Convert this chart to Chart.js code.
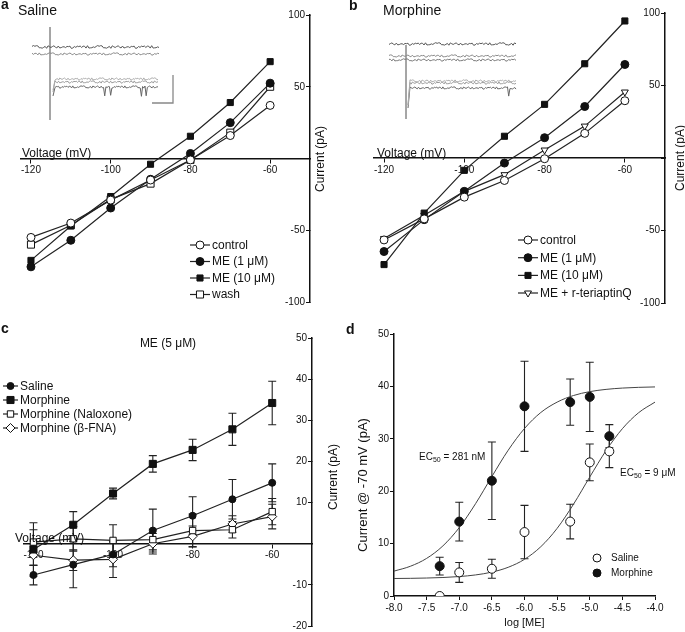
<!DOCTYPE html>
<html>
<head>
<meta charset="utf-8">
<title>ME currents in saline and morphine treated neurons</title>
<script src="https://cdn.jsdelivr.net/npm/chart.js@4.4.1/dist/chart.umd.min.js"></script>
<style>
  body { margin: 0; background: #fff; }
  #fig { position: relative; width: 685px; height: 632px; overflow: hidden;
         font-family: "Liberation Sans", Arial, sans-serif; color: #111; }
  #fig canvas { position: absolute; }
  .t { position: absolute; white-space: nowrap; line-height: 1; font-size: 12px; }
  .c { transform: translate(-50%, -50%); }
  .v { transform: translate(-50%, -50%) rotate(-90deg); }
  .p { font-weight: bold; font-size: 14px; }
  sub { font-size: 7px; vertical-align: -2px; }
</style>
</head>
<body>
<div id="fig">
  <canvas id="ivSaline" width="345" height="310" style="left:0;top:0"></canvas>
  <canvas id="ivMorphine" width="340" height="310" style="left:345px;top:0"></canvas>
  <canvas id="ivME5" width="345" height="322" style="left:0;top:310px"></canvas>
  <canvas id="doseResp" width="340" height="322" style="left:345px;top:310px"></canvas>
  <canvas id="traceSaline" width="155" height="105" style="left:25px;top:20px"></canvas>
  <canvas id="traceMorphine" width="140" height="105" style="left:380px;top:20px"></canvas>

  <div class="t p" style="left:1px;top:-3px">a</div>
  <div class="t" style="left:18px;top:3px;font-size:14px">Saline</div>
  <div class="t" style="left:22px;top:147px">Voltage (mV)</div>
  <div class="t v" style="left:320px;top:159px">Current (pA)</div>

  <div class="t p" style="left:349px;top:-2px">b</div>
  <div class="t" style="left:383px;top:3px;font-size:14px">Morphine</div>
  <div class="t" style="left:377px;top:147px">Voltage (mV)</div>
  <div class="t v" style="left:680px;top:158px">Current (pA)</div>

  <div class="t p" style="left:1px;top:321px">c</div>
  <div class="t c" style="left:168px;top:343px">ME (5 μM)</div>
  <div class="t" style="left:15px;top:532px">Voltage (mV)</div>
  <div class="t v" style="left:333px;top:477px">Current (pA)</div>

  <div class="t p" style="left:346px;top:322px">d</div>
  <div class="t v" style="left:362px;top:485px;font-size:13px">Current @ -70 mV (pA)</div>
  <div class="t" style="left:419px;top:452px;font-size:10px">EC<sub>50</sub> = 281 nM</div>
  <div class="t" style="left:620px;top:468px;font-size:10px">EC<sub>50</sub> = 9 μM</div>
</div>

<script>
// ---- data -------------------------------------------------------------
// command steps (mV) for the I-V plots
var voltage = [-120, -110, -100, -90, -80, -70, -60];
var voltTicks = [-120, -100, -80, -60];

// a: saline treated neuron (pA)
var salControl = [-55, -45, -29, -15, -1, 16, 37];
var salME1 = [-75.5, -57, -34.5, -14.5, 3.5, 25, 52.5];
var salME10 = [-71, -47, -26.5, -4, 15.5, 39, 67.5];
var salWash = [-60, -46.5, -28.5, -17.5, -1, 18, 50];

// b: morphine treated neuron (pA)
var morControl = [-56.5, -42, -27, -15.5, -0.5, 17, 39.5];
var morME1 = [-64.5, -42.5, -23, -3.5, 14, 35.5, 64.5];
var morME10 = [-73.5, -38, -8.5, 15, 37, 65, 94.5];
var morTertiapin = [-55.5, -39.5, -23, -11.5, 5.5, 22, 45.5];

// c: ME (5 uM) induced current, mean and s.e.m. (pA)
var me5Saline = [-7.6, -5.1, -2.6, 3.2, 6.8, 10.8, 14.8];
var me5SalineErr = [2.4, 5.6, 3, 5.2, 4.6, 4.8, 4.6];
var me5Morphine = [-1.4, 4.6, 12.2, 19.4, 22.8, 27.8, 34.2];
var me5MorphineErr = [6.5, 3.2, 1.3, 2, 2.6, 3.9, 5.3];
var me5Naloxone = [0.4, 1.2, 0.8, 1, 3.2, 3.4, 7.8];
var me5NaloxoneErr = [3, 3, 3.8, 2.5, 4, 2, 3.2];
var me5Bfna = [-2.8, -4, -3.8, 0, 1.8, 4.8, 6.6];
var me5BfnaErr = [2.5, 2.5, 4.4, 2.5, 2.5, 2, 3];

// d: concentration-response at -70 mV
var logME = [-7.3, -7.0, -6.5, -6.0, -5.3, -5.0, -4.7];
var logTicks = [-8, -7.5, -7, -6.5, -6, -5.5, -5, -4.5, -4];
var drSaline = [0, 4.5, 5.2, 12.2, 14.2, 25.5, 27.6];
var drSalineErr = [0, 1.9, 1.8, 5.1, 3.3, 3.5, 3.1];
var drMorphine = [5.7, 14.2, 22, 36.2, 37, 38, 30.5];
var drMorphineErr = [1.7, 3.7, 7.4, 8.6, 4.4, 6.6, 2.2];
// fitted curves
var fitLog = [-8, -7.75, -7.5, -7.25, -7, -6.75, -6.5, -6.25, -6, -5.75, -5.5, -5.25, -5, -4.75, -4.5, -4.25, -4];
var fitMorphine = [4.75, 5.67, 7.18, 9.57, 13.05, 17.62, 22.8, 27.82, 31.97, 35.02, 37.0, 38.26, 39.0, 39.43, 39.68, 39.82, 39.9];
var fitSaline = [3.34, 3.37, 3.43, 3.53, 3.71, 4.02, 4.56, 5.48, 7.0, 9.41, 12.91, 17.5, 22.71, 27.75, 31.93, 34.99, 37.0];

// example current traces (inset), baseline noise in pA
var traceNoise = [0.5, -0.8, 1.1, -0.4, 0.3, -1.0, 0.7, 1.2, -0.5, -0.9, 0.4, 0.8, -0.3, -1.2, 0.6,
  0.1, -0.7, 1.0, -0.4, 0.5, -0.8, 1.1, 0.2, -0.6, -0.1, 0.7, -1.1, 0.4, 0.9, -0.5, 0.1, -0.8,
  0.6, 1.0, -0.3, -0.7, 0.5, -0.4, 0.8, -0.9, 0.2, 0.7, -0.6, 0.3];
var salSpikes = [42, 47, 73, 77];
var morSpikes = [81];

// ---- helpers ----------------------------------------------------------
var INK = '#111';
var OPEN = '#fff';
Chart.defaults.font.family = '"Liberation Sans", Arial, sans-serif';
Chart.defaults.color = INK;

function pts(xs, ys) {
  return xs.map(function (x, i) { return { x: x, y: ys[i] }; });
}

function series(label, xs, ys, style) {
  return Object.assign({
    label: label, data: pts(xs, ys),
    borderColor: '#222', borderWidth: 1.2,
    pointStyle: 'circle', pointRadius: 4, pointRotation: 0,
    pointBackgroundColor: INK, pointBorderColor: INK, pointBorderWidth: 1,
    tension: 0
  }, style || {});
}

// vertical s.e.m. bars under the markers
var errorBars = {
  id: 'errorBars',
  beforeDatasetsDraw: function (chart) {
    var ctx = chart.ctx, ys = chart.scales.y;
    chart.data.datasets.forEach(function (ds, i) {
      if (!ds.errors) return;
      var meta = chart.getDatasetMeta(i);
      ctx.save();
      ctx.strokeStyle = '#222';
      ctx.lineWidth = 1.1;
      meta.data.forEach(function (pt, j) {
        var e = ds.errors[j];
        if (!e) return;
        var v = ds.data[j].y;
        var top = ys.getPixelForValue(v + e), bot = ys.getPixelForValue(v - e);
        ctx.beginPath();
        ctx.moveTo(pt.x, top); ctx.lineTo(pt.x, bot);
        ctx.moveTo(pt.x - 4, top); ctx.lineTo(pt.x + 4, top);
        ctx.moveTo(pt.x - 4, bot); ctx.lineTo(pt.x + 4, bot);
        ctx.stroke();
      });
      ctx.restore();
    });
  }
};

// legend with line + marker like the original graphs
var lineLegend = {
  id: 'lineLegend',
  afterDraw: function (chart, args, opts) {
    if (!opts || !opts.rows) return;
    var ctx = chart.ctx;
    ctx.save();
    ctx.font = (opts.size || 12) + 'px "Liberation Sans", Arial, sans-serif';
    ctx.textBaseline = 'middle';
    chart.data.datasets.forEach(function (ds, i) {
      var y = opts.rows[i];
      if (y == null) return;
      var x0 = opts.x, len = opts.len || 0, px = x0 + len / 2;
      if (len) {
        ctx.strokeStyle = ds.borderColor;
        ctx.lineWidth = ds.borderWidth;
        ctx.beginPath(); ctx.moveTo(x0, y); ctx.lineTo(x0 + len, y); ctx.stroke();
      }
      ctx.fillStyle = ds.pointBackgroundColor;
      ctx.strokeStyle = ds.pointBorderColor;
      ctx.lineWidth = ds.pointBorderWidth;
      Chart.helpers.drawPoint(ctx, {
        pointStyle: ds.pointStyle, rotation: ds.pointRotation || 0,
        radius: opts.radius || ds.pointRadius, borderWidth: ds.pointBorderWidth
      }, px, y);
      ctx.fillStyle = INK;
      ctx.fillText(ds.label, opts.textX, y + 0.5);
    });
    ctx.restore();
  }
};

function ivOptions(o) {
  return {
    responsive: false, animation: false, events: [],
    layout: { padding: o.pad },
    plugins: { legend: { display: false }, tooltip: { enabled: false }, lineLegend: o.legend },
    scales: {
      x: {
        type: 'linear', min: -122.5, max: -50, position: { y: 0 },
        afterBuildTicks: function (s) { s.ticks = voltTicks.map(function (v) { return { value: v }; }); },
        grid: { drawOnChartArea: false, color: INK, tickLength: 4 },
        border: { color: INK, width: 1.5 },
        ticks: { font: { size: 10 }, padding: 2, maxRotation: 0, autoSkip: false }
      },
      y: {
        position: 'right', min: o.ymin, max: o.ymax,
        afterFit: function (s) { s.width = o.yWidth; },
        grid: { drawOnChartArea: false, color: INK, tickLength: -4 },
        border: { color: INK, width: 1.5 },
        ticks: {
          stepSize: o.step, mirror: true, padding: -5, font: { size: 10 },
          callback: function (v) { return v === 0 ? '' : v; }
        }
      }
    }
  };
}

function insetChart(id, w, h, sets) {
  return new Chart(document.getElementById(id), {
    type: 'line',
    data: { datasets: sets },
    options: {
      responsive: false, animation: false, events: [],
      layout: { padding: 0 },
      plugins: { legend: { display: false }, tooltip: { enabled: false } },
      elements: { point: { radius: 0 }, line: { borderWidth: 1, tension: 0 } },
      scales: {
        x: { type: 'linear', display: false, min: 0, max: w },
        y: { display: false, min: -h, max: 0 }
      }
    }
  });
}

// one sweep: baseline + noise sampled between t0 and t1 (ms)
function sweep(t0, t1, base, shift, amp, color, spikes, riseFrom) {
  var n = traceNoise.length, m = 2 * n, data = [];
  if (riseFrom != null) data.push({ x: t0 - 2, y: riseFrom });
  for (var i = 0; i < m; i++) {
    var y = base + traceNoise[(i * 7 + shift) % n] * amp;
    if (spikes && spikes.indexOf(i) >= 0) y -= 9;
    data.push({ x: t0 + i * (t1 - t0) / (m - 1), y: y });
  }
  return { data: data, borderColor: color, borderWidth: 1 };
}

// ---- a: saline ---------------------------------------------------------
new Chart(document.getElementById('ivSaline'), {
  type: 'line',
  data: { datasets: [
    series('control', voltage, salControl, { pointBackgroundColor: OPEN }),
    series('ME (1 μM)', voltage, salME1),
    series('ME (10 μM)', voltage, salME10, { pointStyle: 'rect', pointRadius: 4.3 }),
    series('wash', voltage, salWash, { pointStyle: 'rect', pointRadius: 5, pointBackgroundColor: OPEN })
  ] },
  options: ivOptions({ pad: { left: 21, top: 15, bottom: 8, right: 0 }, yWidth: 35,
    ymin: -100, ymax: 100, step: 50,
    legend: { x: 190, len: 20, textX: 212, rows: [245, 261.5, 278, 294.5] } }),
  plugins: [lineLegend]
});

// ---- b: morphine -------------------------------------------------------
new Chart(document.getElementById('ivMorphine'), {
  type: 'line',
  data: { datasets: [
    series('control', voltage, morControl, { pointBackgroundColor: OPEN }),
    series('ME (1 μM)', voltage, morME1),
    series('ME (10 μM)', voltage, morME10, { pointStyle: 'rect', pointRadius: 4.3 }),
    series('ME + r-teriaptinQ', voltage, morTertiapin,
      { pointStyle: 'triangle', pointRotation: 180, pointRadius: 4, pointBackgroundColor: OPEN })
  ] },
  options: ivOptions({ pad: { left: 29, top: 13, bottom: 7, right: 0 }, yWidth: 20,
    ymin: -100, ymax: 100, step: 50,
    legend: { x: 173, len: 20, textX: 195, rows: [240, 257.7, 275.4, 293] } }),
  plugins: [lineLegend]
});

// ---- c: ME 5 uM --------------------------------------------------------
new Chart(document.getElementById('ivME5'), {
  type: 'line',
  data: { datasets: [
    series('Saline', voltage, me5Saline, { pointRadius: 3.5, errors: me5SalineErr }),
    series('Morphine', voltage, me5Morphine, { pointStyle: 'rect', pointRadius: 5, errors: me5MorphineErr }),
    series('Morphine (Naloxone)', voltage, me5Naloxone,
      { pointStyle: 'rect', pointRadius: 4.5, pointBackgroundColor: OPEN, errors: me5NaloxoneErr }),
    series('Morphine (β-FNA)', voltage, me5Bfna,
      { pointStyle: 'rectRot', pointRadius: 4.5, pointBackgroundColor: OPEN, errors: me5BfnaErr })
  ] },
  options: ivOptions({ pad: { left: 23.5, top: 28, bottom: 4, right: 0 }, yWidth: 33,
    ymin: -20, ymax: 50, step: 10,
    legend: { x: 3, len: 15, textX: 20, rows: [76, 90, 104, 118] } }),
  plugins: [errorBars, lineLegend]
});

// ---- d: concentration-response ----------------------------------------
new Chart(document.getElementById('doseResp'), {
  type: 'line',
  data: { datasets: [
    series('Saline', logME, drSaline, { showLine: false, pointRadius: 4.5,
      pointBackgroundColor: OPEN, errors: drSalineErr }),
    series('Morphine', logME, drMorphine, { showLine: false, pointRadius: 4.5, errors: drMorphineErr }),
    series('', fitLog, fitMorphine, { pointRadius: 0, borderWidth: 1, borderColor: '#444',
      cubicInterpolationMode: 'monotone' }),
    series('', fitLog, fitSaline, { pointRadius: 0, borderWidth: 1, borderColor: '#444',
      cubicInterpolationMode: 'monotone' })
  ] },
  options: {
    responsive: false, animation: false, events: [],
    layout: { padding: { left: 0, top: 24, right: 30, bottom: 0 } },
    plugins: { legend: { display: false }, tooltip: { enabled: false },
      lineLegend: { x: 252, len: 0, textX: 266, size: 10, radius: 4, rows: [248, 263, null, null] } },
    scales: {
      x: {
        type: 'linear', min: -8, max: -4, position: 'bottom',
        afterFit: function (s) { s.height = 36; },
        afterBuildTicks: function (s) { s.ticks = logTicks.map(function (v) { return { value: v }; }); },
        grid: { drawOnChartArea: false, color: INK, tickLength: 4 },
        border: { color: INK, width: 1.5 },
        ticks: { font: { size: 10 }, padding: 2, maxRotation: 0, autoSkip: false,
          callback: function (v) { return v.toFixed(1); } },
        title: { display: true, text: 'log [ME]', font: { size: 11 }, padding: { top: 0, bottom: 2 } }
      },
      y: {
        min: 0, max: 50,
        afterFit: function (s) { s.width = 49; },
        grid: { drawOnChartArea: false, color: INK, tickLength: 4 },
        border: { color: INK, width: 1.5 },
        ticks: { stepSize: 10, font: { size: 10 }, padding: 1 }
      }
    }
  },
  plugins: [errorBars, lineLegend]
});

// ---- insets: example sweeps -------------------------------------------
insetChart('traceSaline', 155, 105, [
  sweep(7, 134, -27, 0, 1.2, '#555'),
  sweep(7, 134, -34, 11, 1.0, '#888'),
  { data: [{ x: 25, y: -7 }, { x: 25, y: -100 }], borderColor: '#999', borderWidth: 1 },
  sweep(30, 133, -59, 5, 1.0, '#aaa', null, -70),
  sweep(30, 133, -62, 17, 1.0, '#999', null, -72),
  sweep(30, 133, -67, 29, 1.0, '#666', salSpikes, -76),
  { data: [{ x: 148, y: -55 }, { x: 148, y: -83 }, { x: 127, y: -83 }], borderColor: '#888', borderWidth: 1.3 }
]);

insetChart('traceMorphine', 140, 105, [
  sweep(9, 136, -24, 3, 1.1, '#555'),
  sweep(9, 136, -36, 14, 1.0, '#888'),
  sweep(9, 136, -40, 25, 1.0, '#777'),
  { data: [{ x: 26, y: -25 }, { x: 26, y: -99 }], borderColor: '#999', borderWidth: 1 },
  sweep(30, 136, -61, 7, 1.0, '#aaa', null, -85),
  sweep(30, 136, -63, 19, 1.0, '#999', null, -85),
  sweep(30, 136, -68, 33, 1.0, '#666', morSpikes, -88)
]);
</script>
</body>
</html>
